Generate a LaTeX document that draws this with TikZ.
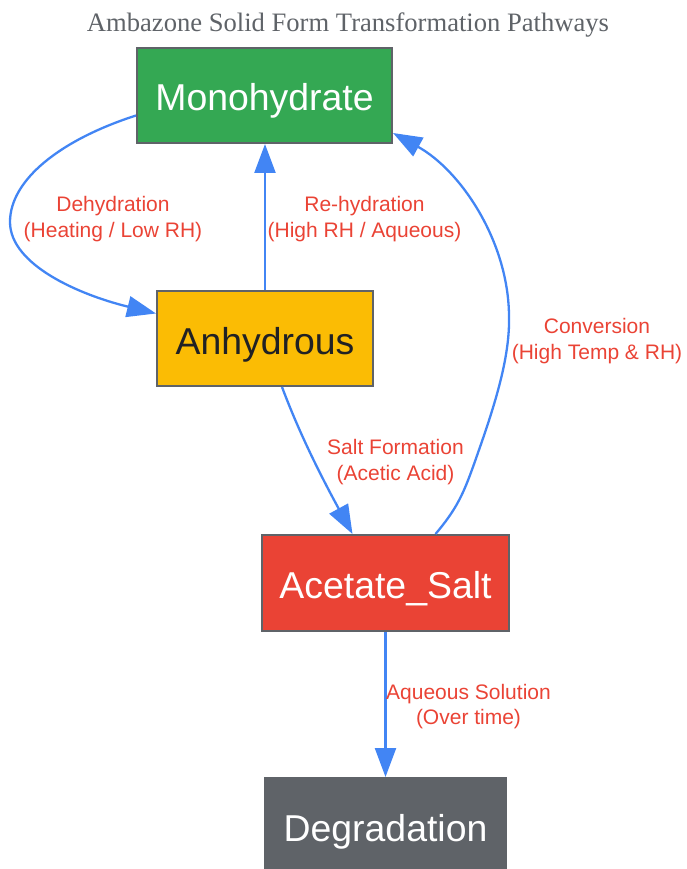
\documentclass[tikz,border=0pt]{standalone}
\usepackage{fontspec}
\setmainfont{Liberation Serif}
\newfontfamily\arialf{Liberation Sans}
\usetikzlibrary{arrows.meta}
\definecolor{gGreen}{HTML}{34A853}
\definecolor{gYellow}{HTML}{FBBC04}
\definecolor{gRed}{HTML}{EA4335}
\definecolor{gGray}{HTML}{5F6368}
\definecolor{gBlue}{HTML}{4285F4}
\definecolor{gDark}{HTML}{202124}
\definecolor{gLabel}{HTML}{EA4335}
\begin{document}
\begin{tikzpicture}[x=1pt,y=-1pt,
  statebox/.style={draw=gGray, line width=2pt, inner sep=0pt, minimum height=95pt,
    text height=31pt, text depth=0pt,
    font=\arialf\fontsize{37.4}{37.4}\selectfont},
  edge/.style={draw=gBlue, line width=2.3pt, -{Triangle[length=29pt,width=21pt]}},
  elabel/.style={font=\arialf\fontsize{21}{25.5}\selectfont, text=gLabel, align=center},
  titletext/.style={font=\fontsize{26.6}{26.6}\selectfont, text=gGray}
]
\useasboundingbox (0,0) rectangle (686,869);

\node[titletext, anchor=base] (title) at (348,32) {Ambazone Solid Form Transformation Pathways};

\node[statebox, fill=gGreen, text=white, minimum width=255pt] (mono) at (264.5,95.5) {Monohydrate};
\node[statebox, fill=gYellow, text=gDark, minimum width=216pt] (anh) at (265,338.5) {Anhydrous};
\node[statebox, fill=gRed, text=white, minimum width=247pt, minimum height=96pt] (acet) at (385.5,583) {Acetate\_Salt};
\node[statebox, fill=gGray, text=white, minimum width=241pt, minimum height=96pt] (degr) at (385.5,826) {Degradation};

% Dehydration
\draw[edge] ([yshift=-20pt]mono.west) .. controls (60,140) and (10,180) .. (10,222)
  .. controls (10,265) and (80,295) .. ([yshift=25pt]anh.west);
% Re-hydration
\draw[edge] (anh.north) -- (anh.north |- mono.south);
% Salt formation
\draw[edge] ([xshift=17pt]anh.south) .. controls (300,435) and (322,478) .. ([xshift=-33pt]acet.north);
% Conversion
\draw[edge] ([xshift=50pt]acet.north) .. controls (460,505) and (465,490) .. (480,447)
  .. controls (500,390) and (510,350) .. (509,315)
  .. controls (508,240) and (460,170) .. ([yshift=11pt]mono.south east);
% Aqueous
\draw[edge] (acet.south) -- (degr.north);

\node[elabel] (l1) at (113,219) {Dehydration\\(Heating / Low RH)};
\node[elabel] (l2) at (364.5,219) {Re-hydration\\(High RH / Aqueous)};
\node[elabel] (l3) at (395.5,462) {Salt Formation\\(Acetic Acid)};
\node[elabel] (l4) at (597,341) {Conversion\\(High Temp \& RH)};
\node[elabel] (l5) at (468.5,706.5) {Aqueous Solution\\(Over time)};
\end{tikzpicture}
\end{document}
